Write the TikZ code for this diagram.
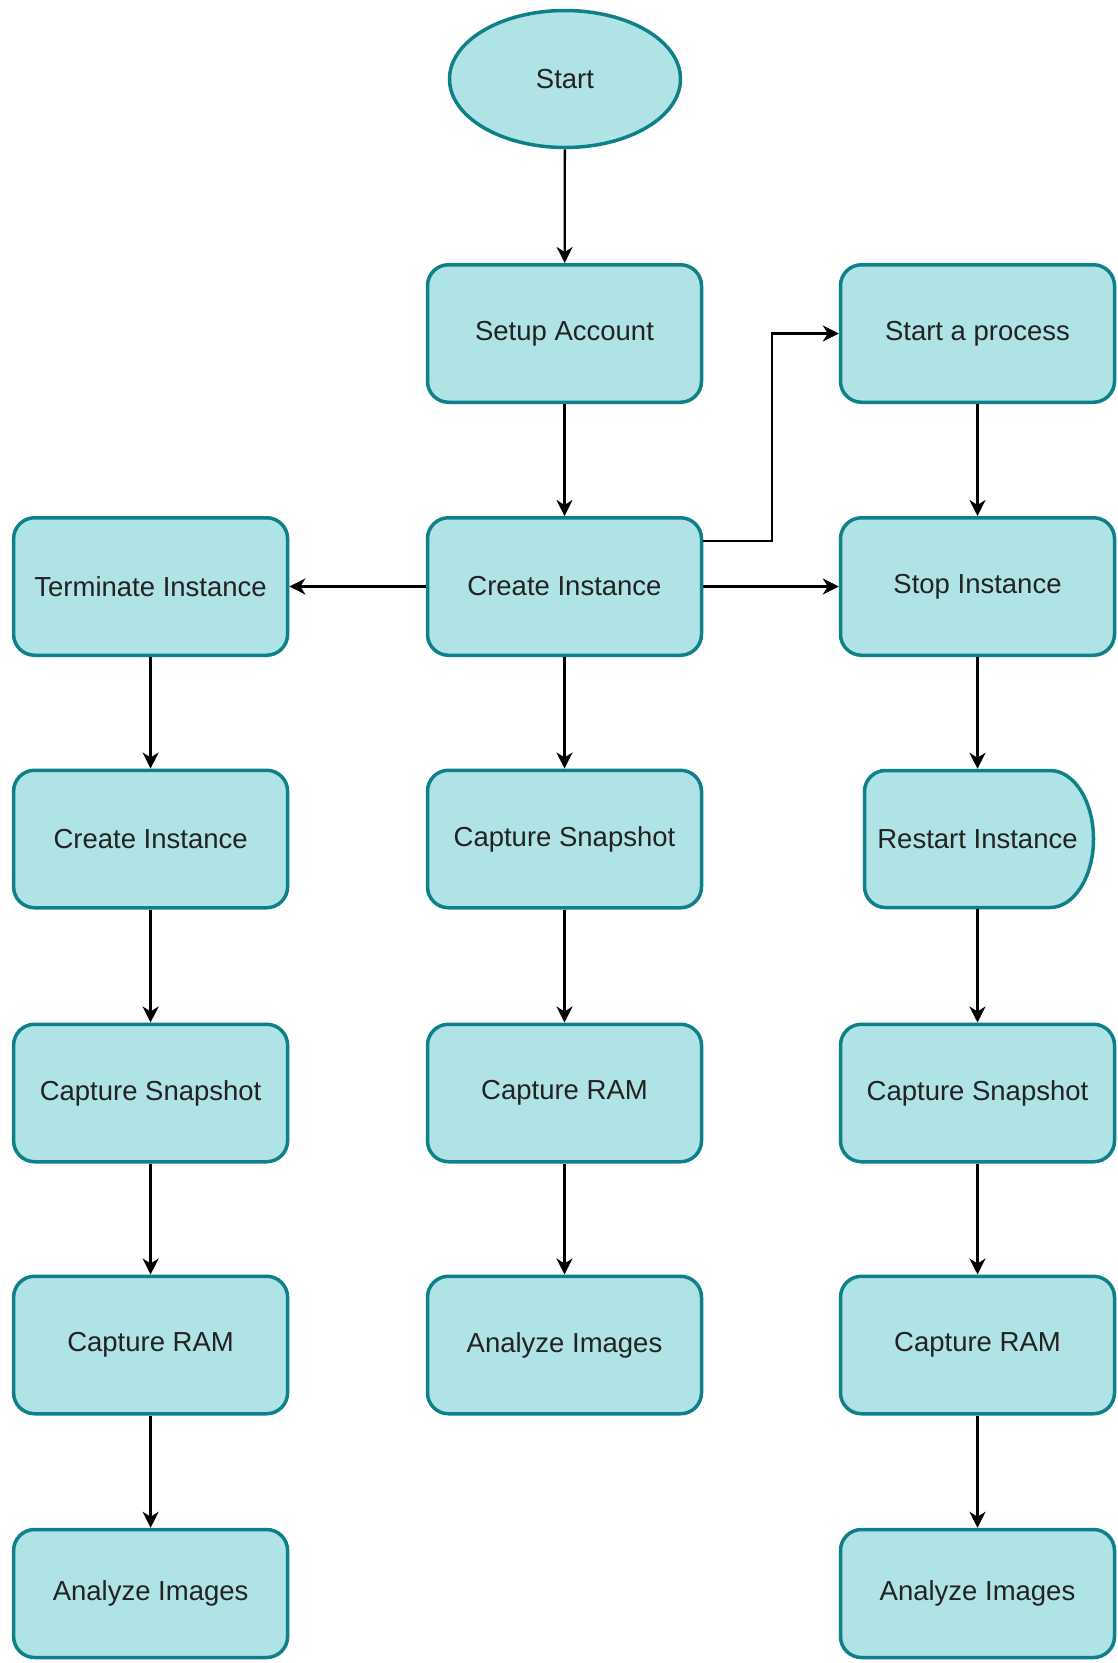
\documentclass[tikz,border=0pt]{standalone}
\usepackage{fontspec}
\setmainfont{Liberation Sans}
\usetikzlibrary{arrows.meta,shapes.geometric}
\definecolor{boxfill}{HTML}{B0E3E6}
\definecolor{boxdraw}{HTML}{0E8088}
\definecolor{txt}{HTML}{222222}
\tikzset{
  boxline/.style={draw=boxdraw,fill=boxfill,line width=3.5pt},
  procbox/.style={boxline,rectangle,rounded corners=21pt,minimum width=274pt,minimum height=137.5pt,inner sep=0pt,text=txt,font=\fontsize{27.5}{33}\selectfont},
  lastbox/.style={procbox,minimum height=128pt},
  termshape/.style={boxline,ellipse,minimum width=231pt,minimum height=137pt,inner sep=0pt,text=txt,font=\fontsize{27.5}{33}\selectfont},
  plaintext/.style={rectangle,minimum width=229pt,minimum height=140.5pt,inner sep=0pt,outer sep=0pt,text=txt,font=\fontsize{27.5}{33}\selectfont},
  conn/.style={draw=black,line width=2.3pt,-{Stealth[length=16pt,width=16pt,inset=5pt]}}
}
\begin{document}
\begin{tikzpicture}[x=1pt,y=-1pt]
\useasboundingbox (0,0) rectangle (1117,1663);
% delay shape for Restart Instance
\draw[boxline] (1050,770.5) arc[start angle=90,end angle=-90,x radius=43.5pt,y radius=68.5pt]
  -- (885.5,907.5) arc[start angle=-90,end angle=-180,radius=21pt]
  -- (864.5,791.5) arc[start angle=180,end angle=90,radius=21pt] -- cycle;
\node[termshape] (start) at (565,79) {Start};
\node[procbox] (setup) at (564.5,333.5) {Setup Account};
\node[procbox] (process) at (977.5,333.5) {Start a process};
\node[procbox] (create) at (564.5,586.5) {Create Instance};
\node[procbox] (term) at (150.6,586.5) {Terminate Instance};
\node[procbox] (stop) at (977.5,586.5) {Stop Instance};
\node[procbox] (lcreate) at (150.6,839) {Create Instance};
\node[procbox] (msnap) at (564.5,839) {Capture Snapshot};
\node[plaintext] (restart) at (977.5,839) {Restart Instance};
\node[procbox] (lsnap) at (150.6,1093) {Capture Snapshot};
\node[procbox] (mram) at (564.5,1093) {Capture RAM};
\node[procbox] (rsnap) at (977.5,1093) {Capture Snapshot};
\node[procbox] (lram) at (150.6,1345) {Capture RAM};
\node[procbox] (manalyze) at (564.5,1345) {Analyze Images};
\node[procbox] (rram) at (977.5,1345) {Capture RAM};
\node[lastbox] (lanalyze) at (150.6,1593.5) {Analyze Images};
\node[lastbox] (ranalyze) at (977.5,1593.5) {Analyze Images};
% connectors
\draw[conn] (start) -- (setup);
\draw[conn] (setup) -- (create);
\draw[conn] (create) -- (term);
\draw[conn] (create) -- (stop);
\draw[conn] ([yshift=45.5pt]create.east) -- ++(69,0) |- (process.west);
\draw[conn] (process) -- (stop);
\draw[conn] (stop) -- (restart);
\draw[conn] (restart) -- (rsnap);
\draw[conn] (rsnap) -- (rram);
\draw[conn] (rram) -- (ranalyze);
\draw[conn] (create) -- (msnap);
\draw[conn] (msnap) -- (mram);
\draw[conn] (mram) -- (manalyze);
\draw[conn] (term) -- (lcreate);
\draw[conn] (lcreate) -- (lsnap);
\draw[conn] (lsnap) -- (lram);
\draw[conn] (lram) -- (lanalyze);
\end{tikzpicture}
\end{document}
